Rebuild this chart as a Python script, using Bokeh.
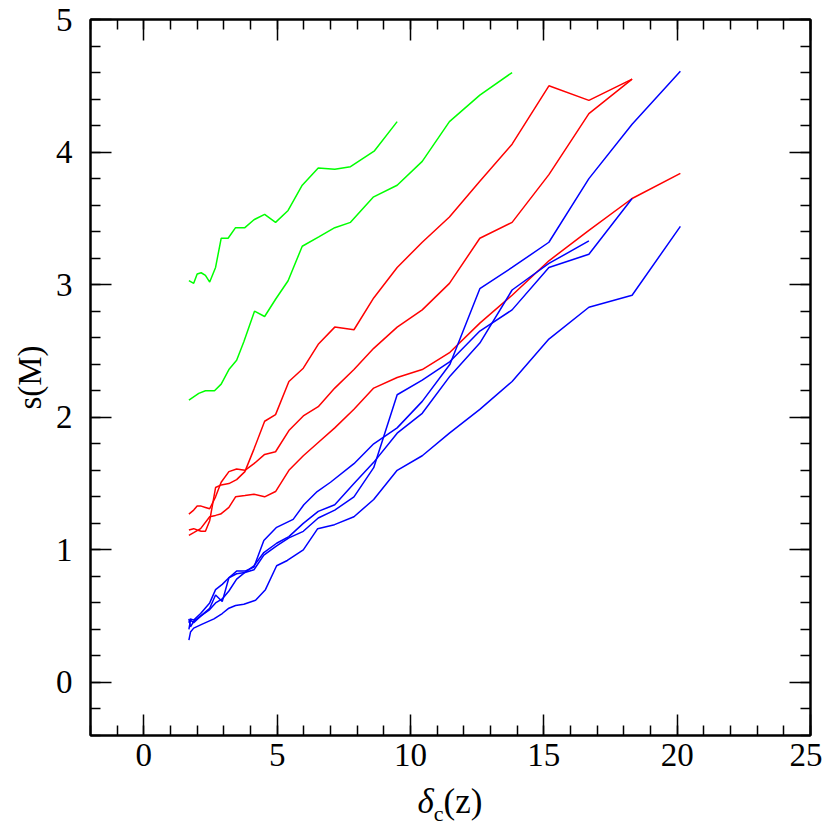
from bokeh.plotting import figure
from bokeh.models import FixedTicker, LinearAxis, Range1d, CustomJSTickFormatter, Div
from bokeh.layouts import column
from bokeh.embed import file_html
from bokeh.resources import INLINE

# ---- data ----
green1_x = [1.69, 1.87, 2.00, 2.15, 2.31, 2.47, 2.69, 2.90, 3.16, 3.44, 3.79, 4.13, 4.53, 4.94, 5.41, 5.94, 6.54, 7.16, 7.75, 8.65, 9.50]
green1_y = [3.03, 3.01, 3.08, 3.09, 3.07, 3.02, 3.13, 3.35, 3.35, 3.43, 3.43, 3.49, 3.53, 3.47, 3.56, 3.75, 3.88, 3.87, 3.89, 4.01, 4.23]

green2_x = [1.69, 2.06, 2.31, 2.65, 2.90, 3.19, 3.48, 3.75, 4.15, 4.53, 4.94, 5.41, 5.94, 6.56, 7.16, 7.75, 8.60, 9.50, 10.44, 11.46, 12.60, 13.81]
green2_y = [2.13, 2.18, 2.20, 2.20, 2.25, 2.36, 2.43, 2.57, 2.80, 2.76, 2.89, 3.03, 3.29, 3.36, 3.43, 3.47, 3.66, 3.75, 3.93, 4.23, 4.43, 4.60]

red1_x = [1.69, 1.87, 2.00, 2.15, 2.31, 2.47, 2.69, 2.90, 3.19, 3.48, 3.79, 4.13, 4.53, 4.94, 5.44, 5.98, 6.54, 7.16, 7.88, 8.62, 9.50, 10.44, 11.46, 12.60, 13.81, 15.19, 16.69, 18.31]
red1_y = [1.15, 1.16, 1.15, 1.14, 1.14, 1.22, 1.47, 1.49, 1.50, 1.53, 1.59, 1.76, 1.97, 2.02, 2.27, 2.37, 2.55, 2.68, 2.66, 2.90, 3.13, 3.32, 3.51, 3.78, 4.06, 4.50, 4.39, 4.55]

red2_x = [1.69, 1.87, 2.00, 2.15, 2.31, 2.47, 2.69, 2.90, 3.19, 3.48, 3.79, 4.13, 4.53, 4.94, 5.44, 5.98, 6.54, 7.16, 7.88, 8.62, 9.50, 10.44, 11.46, 12.60, 13.81, 15.19, 16.69, 18.31]
red2_y = [1.27, 1.30, 1.33, 1.33, 1.32, 1.31, 1.40, 1.51, 1.59, 1.61, 1.60, 1.65, 1.72, 1.74, 1.90, 2.01, 2.08, 2.22, 2.36, 2.52, 2.68, 2.81, 3.01, 3.35, 3.47, 3.83, 4.29, 4.55]

red3_x = [1.69, 1.87, 2.13, 2.47, 2.69, 2.88, 3.19, 3.44, 3.79, 4.13, 4.53, 4.94, 5.44, 5.98, 6.54, 7.16, 7.88, 8.62, 9.50, 10.44, 11.48, 12.60, 13.81, 15.19, 16.69, 18.31, 20.12]
red3_y = [1.11, 1.13, 1.16, 1.25, 1.26, 1.27, 1.32, 1.40, 1.41, 1.42, 1.40, 1.44, 1.60, 1.71, 1.81, 1.92, 2.06, 2.22, 2.30, 2.36, 2.49, 2.71, 2.92, 3.18, 3.41, 3.65, 3.84]

blue1_x = [1.69, 1.75, 1.87, 2.13, 2.47, 2.69, 2.94, 3.19, 3.48, 3.79, 4.13, 4.50, 4.98, 5.60, 6.00, 6.50, 7.00, 7.88, 8.62, 9.50, 10.44, 11.48, 12.60, 13.81, 15.19, 16.69, 18.31, 20.12]
blue1_y = [0.45, 0.48, 0.47, 0.52, 0.60, 0.70, 0.74, 0.79, 0.84, 0.84, 0.87, 1.07, 1.17, 1.23, 1.34, 1.44, 1.51, 1.65, 1.80, 1.92, 2.12, 2.40, 2.97, 3.13, 3.32, 3.80, 4.21, 4.61]

blue2_x = [1.69, 1.75, 1.87, 2.13, 2.47, 2.69, 2.94, 3.19, 3.48, 3.79, 4.13, 4.50, 4.98, 5.44, 5.98, 6.54, 7.16, 7.88, 8.62, 9.50, 10.44, 11.48, 12.60, 13.81, 15.19, 16.69, 18.31]
blue2_y = [0.40, 0.47, 0.45, 0.50, 0.56, 0.66, 0.61, 0.79, 0.82, 0.83, 0.85, 0.96, 1.03, 1.09, 1.14, 1.24, 1.30, 1.40, 1.62, 2.17, 2.28, 2.42, 2.65, 2.81, 3.13, 3.23, 3.65]

blue3_x = [1.69, 1.75, 1.87, 2.13, 2.47, 2.69, 2.94, 3.19, 3.48, 3.79, 4.13, 4.50, 4.98, 5.44, 5.98, 6.54, 7.16, 7.88, 8.62, 9.50, 10.44, 11.48, 12.60, 13.81, 15.19, 16.69]
blue3_y = [0.48, 0.42, 0.46, 0.50, 0.55, 0.60, 0.63, 0.69, 0.78, 0.83, 0.88, 0.98, 1.05, 1.10, 1.20, 1.29, 1.34, 1.50, 1.66, 1.88, 2.03, 2.31, 2.56, 2.96, 3.16, 3.33]

blue4_x = [1.69, 1.75, 1.87, 2.19, 2.63, 2.94, 3.19, 3.44, 3.75, 4.19, 4.56, 4.98, 5.38, 5.98, 6.52, 7.15, 7.88, 8.62, 9.50, 10.44, 11.46, 12.60, 13.81, 15.19, 16.69, 18.31, 20.12]
blue4_y = [0.32, 0.38, 0.41, 0.44, 0.48, 0.52, 0.56, 0.58, 0.59, 0.62, 0.70, 0.88, 0.92, 1.00, 1.16, 1.19, 1.25, 1.38, 1.60, 1.71, 1.88, 2.06, 2.27, 2.59, 2.83, 2.92, 3.44]

x_major = [0, 5, 10, 15, 20, 25]
x_minor = list(range(-2, 26))
y_major = [0, 1, 2, 3, 4, 5]
y_minor = [round(-0.4 + 0.2 * i, 1) for i in range(28)]

FONT = "Liberation Serif"
FSIZE = "33px"

p = figure(frame_width=720, frame_height=716, output_backend="svg", toolbar_location=None,
           x_range=Range1d(-2, 25), y_range=Range1d(-0.4, 5))
p.min_border_left = 90
p.min_border_right = 12
p.min_border_top = 19
p.min_border_bottom = 44
p.background_fill_color = "white"
p.border_fill_color = "white"
p.outline_line_color = "black"
p.outline_line_width = 2
p.xgrid.visible = False
p.ygrid.visible = False

series = [
    (green1_x, green1_y, "#00ff00"), (green2_x, green2_y, "#00ff00"),
    (red1_x, red1_y, "#ff0000"), (red2_x, red2_y, "#ff0000"), (red3_x, red3_y, "#ff0000"),
    (blue1_x, blue1_y, "#0000ff"), (blue2_x, blue2_y, "#0000ff"),
    (blue3_x, blue3_y, "#0000ff"), (blue4_x, blue4_y, "#0000ff"),
]
for xs, ys, c in series:
    p.line(xs, ys, line_color=c, line_width=1.5)

def style(ax, major, minor, labels=True):
    ax.ticker = FixedTicker(ticks=major, minor_ticks=minor)
    ax.major_tick_in = 21
    ax.major_tick_out = 0
    ax.minor_tick_in = 10
    ax.minor_tick_out = 0
    ax.major_tick_line_width = 1.5
    ax.minor_tick_line_width = 1.5
    ax.axis_line_width = 2
    ax.major_label_text_font = FONT
    ax.major_label_text_font_size = FSIZE
    ax.major_label_text_color = "black"
    if not labels:
        ax.formatter = CustomJSTickFormatter(code="return ''")

xa = p.xaxis[0]
style(xa, x_major, x_minor)
xa.major_label_standoff = 8
ya = p.yaxis[0]
style(ya, y_major, y_minor)
ya.major_label_standoff = 18
ya.axis_label = "s(M)"
ya.axis_label_text_font = FONT
ya.axis_label_text_font_style = "normal"
ya.axis_label_text_font_size = FSIZE
ya.axis_label_text_color = "black"
ya.axis_label_standoff = 5

top = LinearAxis()
style(top, x_major, x_minor, labels=False)
p.add_layout(top, "above")
right = LinearAxis()
style(right, y_major, y_minor, labels=False)
p.add_layout(right, "right")

xlabel = Div(
    text="<i>δ</i><sub style='font-size:22px'>c</sub>(z)",
    width=720, height=50,
    styles={"margin-left": "90px", "text-align": "center",
            "font-family": "'Liberation Serif', serif", "font-size": "35px",
            "color": "black", "line-height": "1.0"},
)

layout = column(p, xlabel, spacing=0)
open("out.html", "w").write(file_html(layout, INLINE))
